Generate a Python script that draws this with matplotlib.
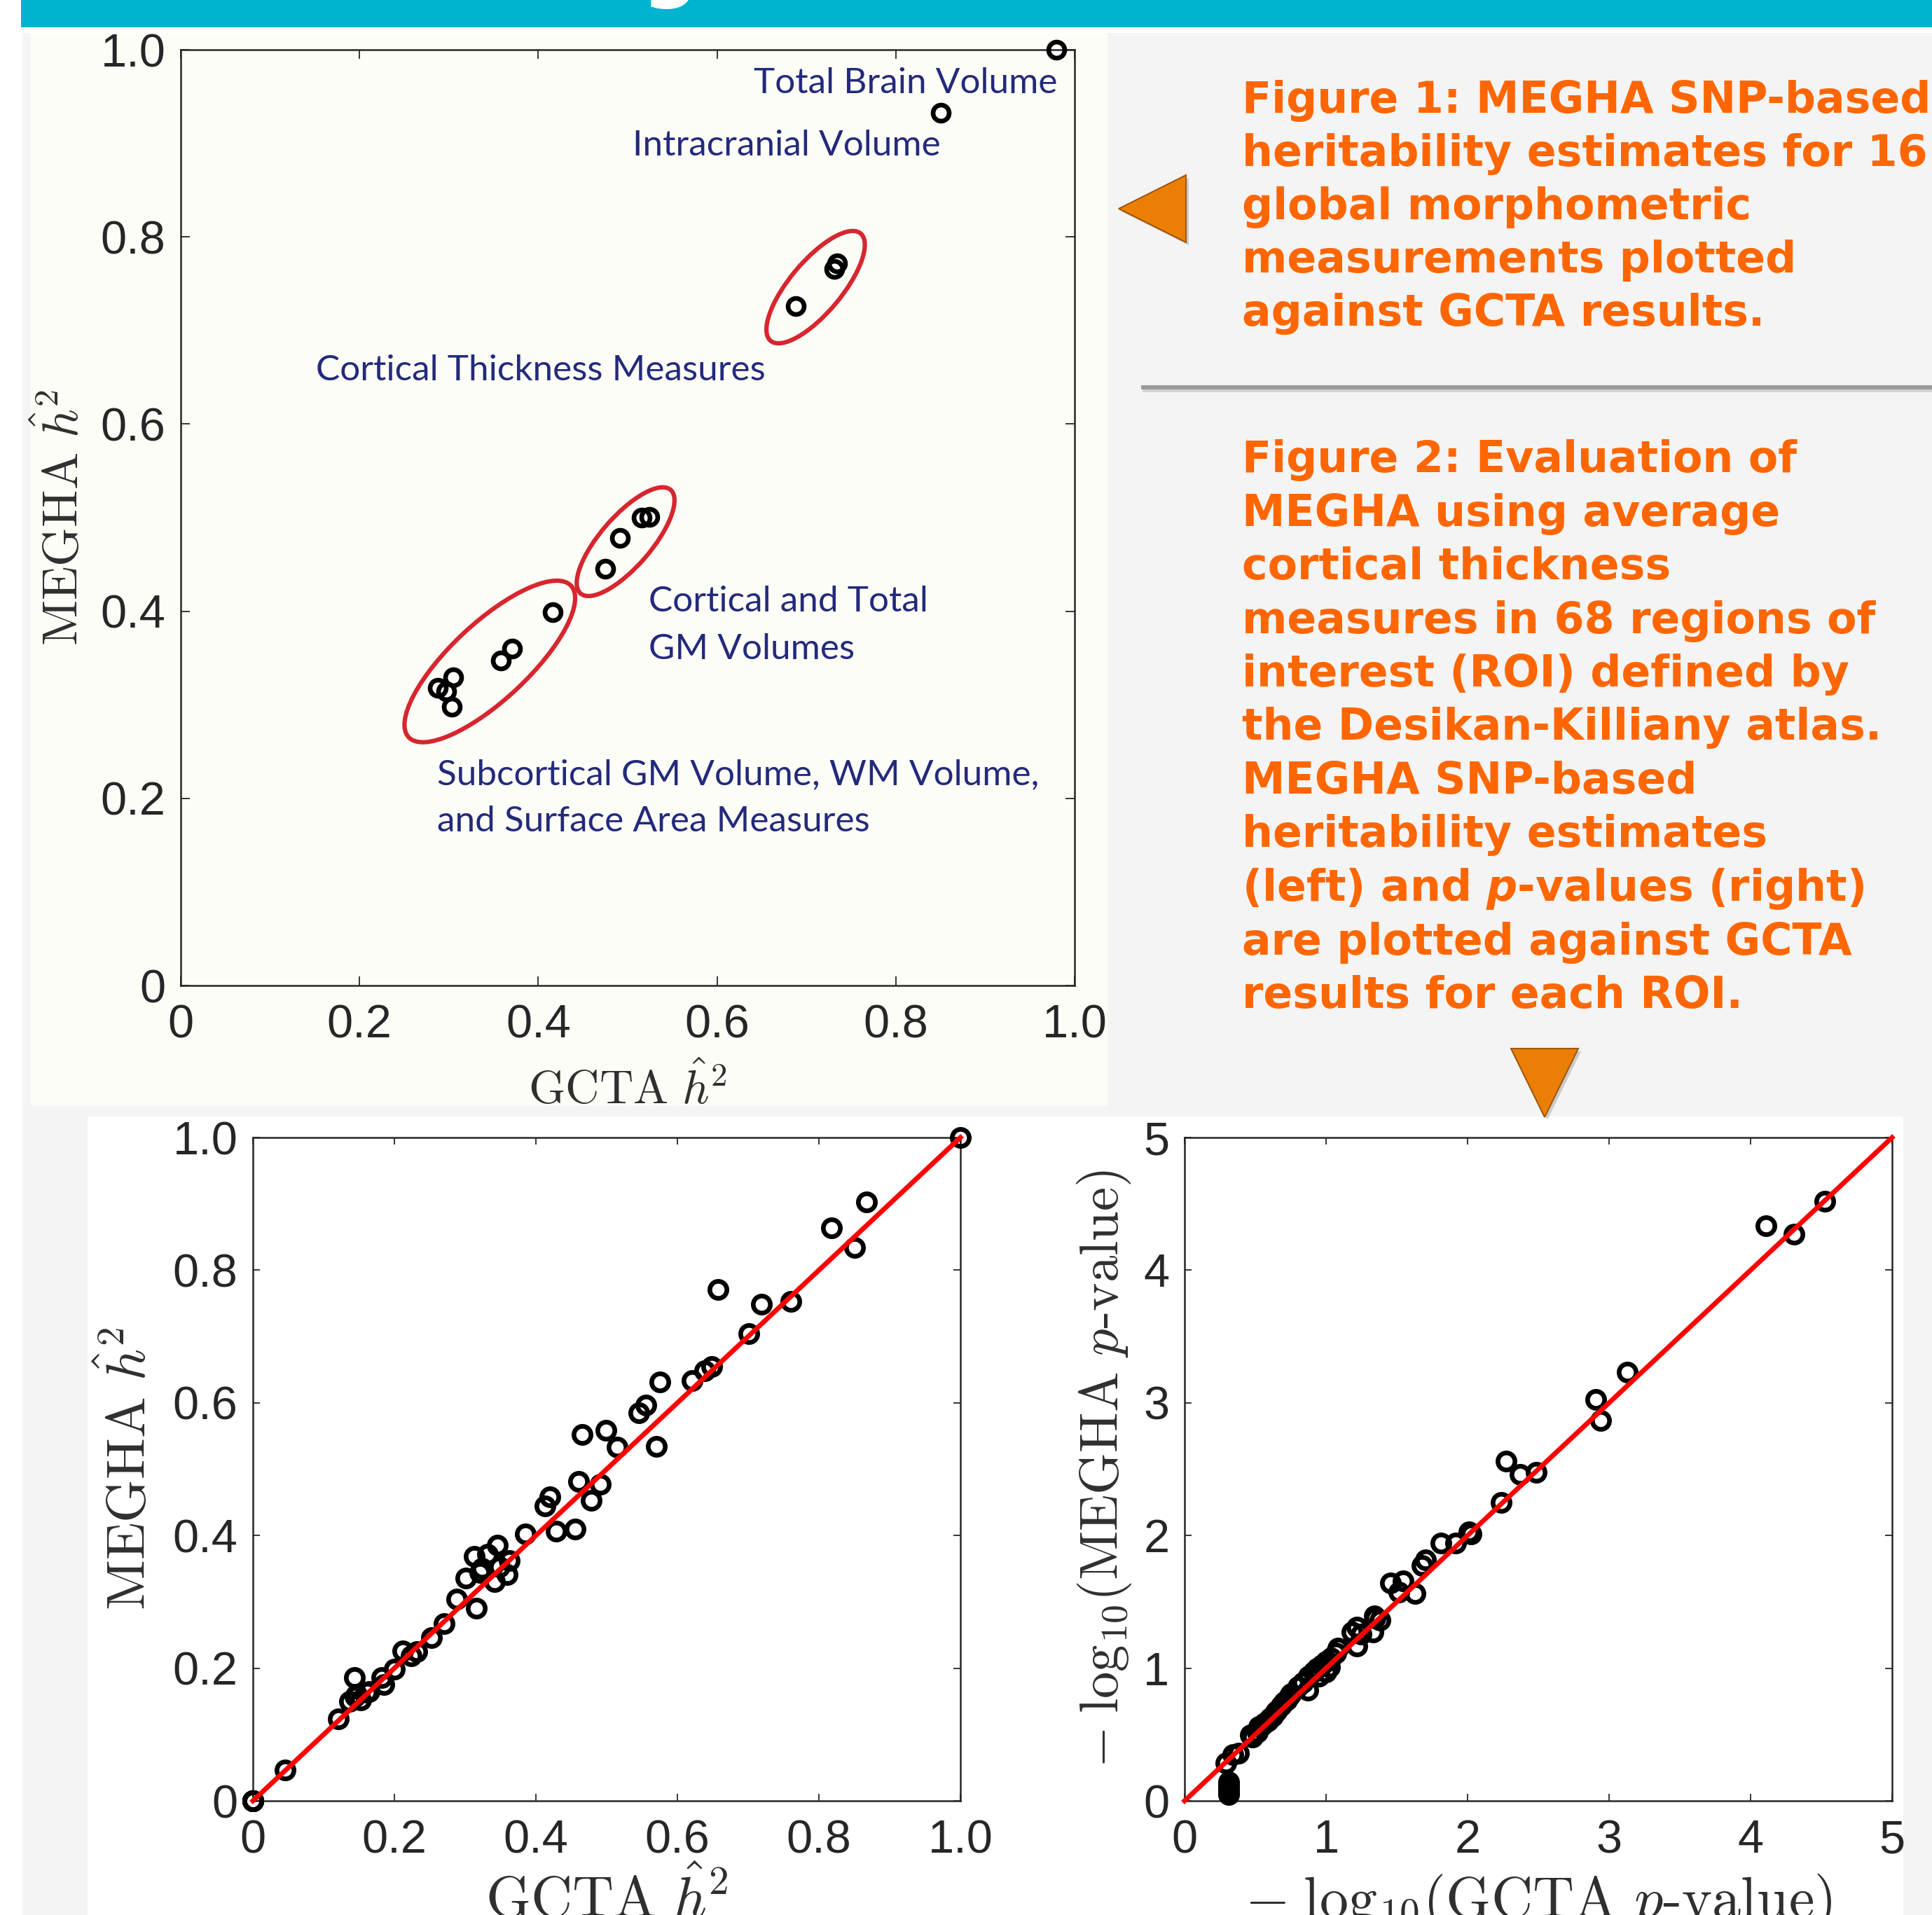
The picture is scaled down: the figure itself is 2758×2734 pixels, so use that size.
import matplotlib
matplotlib.use("Agg")
import matplotlib.pyplot as plt
from matplotlib.patches import Rectangle, Polygon, Ellipse
from matplotlib.transforms import ScaledTranslation

# ---------------- data ----------------
# Figure 1: 16 global morphometric measures (GCTA vs MEGHA h^2)
global_gcta_h2 = [0.980, 0.850, 0.734, 0.731, 0.688, 0.475, 0.491, 0.516, 0.524,
                  0.416, 0.371, 0.358, 0.305, 0.288, 0.297, 0.303]
global_megha_h2 = [1.000, 0.933, 0.772, 0.766, 0.726, 0.445, 0.478, 0.500, 0.501,
                   0.399, 0.360, 0.347, 0.329, 0.318, 0.314, 0.298]

# Figure 2 (left): ROI heritability estimates
roi_gcta_h2 = [0, 0, 0, 0, 0, 0, 0, 0.046, 0.121, 0.137, 0.144, 0.145, 0.147, 0.152,
               0.161, 0.164, 0.182, 0.185, 0.200, 0.212, 0.224, 0.232, 0.252, 0.270,
               0.288, 0.301, 0.313, 0.316, 0.321, 0.324, 0.332, 0.342, 0.346, 0.349,
               0.359, 0.362, 0.385, 0.413, 0.420, 0.429, 0.455, 0.460, 0.465, 0.478,
               0.491, 0.499, 0.515, 0.546, 0.555, 0.570, 0.575, 0.621, 0.639, 0.649,
               0.657, 0.701, 0.719, 0.760, 0.818, 0.850, 0.867, 1.000]
roi_megha_h2 = [0, 0, 0, 0, 0, 0, 0, 0.046, 0.124, 0.150, 0.186, 0.157, 0.161, 0.152,
                0.164, 0.165, 0.186, 0.175, 0.198, 0.226, 0.219, 0.225, 0.246, 0.267,
                0.304, 0.336, 0.369, 0.290, 0.344, 0.351, 0.372, 0.330, 0.385, 0.353,
                0.341, 0.362, 0.402, 0.445, 0.458, 0.407, 0.410, 0.481, 0.552, 0.453,
                0.477, 0.559, 0.533, 0.585, 0.597, 0.534, 0.631, 0.634, 0.648, 0.655,
                0.771, 0.704, 0.749, 0.753, 0.864, 0.834, 0.903, 1.000]

# Figure 2 (right): -log10 p-values
roi_gcta_logp = [0.31, 0.31, 0.31, 0.31, 0.31, 0.31, 0.31,
                 0.292, 0.342, 0.383,
                 0.465, 0.482, 0.515, 0.524, 0.548, 0.565, 0.589, 0.605, 0.622, 0.643,
                 0.655, 0.683, 0.705, 0.721, 0.743, 0.754,
                 0.804, 0.870, 0.837, 0.878, 0.911, 0.936, 0.969, 1.002, 1.035, 1.068,
                 0.952, 1.002, 1.026, 1.084, 1.183, 1.219, 1.216, 1.249, 1.332, 1.340,
                 1.381, 1.348, 1.455, 1.546, 1.513, 1.629, 1.678, 1.703, 1.810, 1.917,
                 2.008, 2.025, 2.239, 2.272, 2.371, 2.487, 2.907, 2.939, 3.130, 4.110,
                 4.305, 4.523]
roi_megha_logp = [0.05, 0.065, 0.08, 0.095, 0.11, 0.125, 0.14,
                  0.287, 0.348, 0.357,
                  0.494, 0.480, 0.516, 0.560, 0.569, 0.585, 0.603, 0.625, 0.639, 0.672,
                  0.683, 0.718, 0.745, 0.762, 0.791, 0.806,
                  0.859, 0.833, 0.894, 0.938, 0.973, 1.000, 1.026, 1.052, 1.079, 1.114,
                  0.938, 0.973, 1.008, 1.149, 1.272, 1.312, 1.167, 1.255, 1.272, 1.395,
                  1.360, 1.378, 1.642, 1.659, 1.572, 1.563, 1.774, 1.818, 1.941, 1.941,
                  2.029, 2.012, 2.249, 2.561, 2.460, 2.478, 3.024, 2.866, 3.233, 4.336,
                  4.269, 4.518]

h2_range = [0, 1]
logp_range = [0, 5]
h2_ticks = [0, 0.2, 0.4, 0.6, 0.8, 1.0]
h2_ticklabels = ['0', '0.2', '0.4', '0.6', '0.8', '1.0']
logp_ticks = [0, 1, 2, 3, 4, 5]
logp_ticklabels = ['0', '1', '2', '3', '4', '5']

fig1_caption = ["Figure 1: MEGHA SNP-based",
                "heritability estimates for 16",
                "global morphometric",
                "measurements plotted",
                "against GCTA results."]
fig2_caption = ["Figure 2: Evaluation of",
                "MEGHA using average",
                "cortical thickness",
                "measures in 68 regions of",
                "interest (ROI) defined by",
                "the Desikan-Killiany atlas.",
                "MEGHA SNP-based",
                "heritability estimates",
                "(left) and $p$-values (right)",
                "are plotted against GCTA",
                "results for each ROI."]
group_labels = [("Total Brain Volume", 0.9805, 0.9537, 'right'),
                ("Intracranial Volume", 0.850, 0.8868, 'right'),
                ("Cortical Thickness Measures", 0.1511, 0.647, 'left'),
                ("Cortical and Total", 0.5234, 0.400, 'left'),
                ("GM Volumes", 0.5234, 0.3485, 'left'),
                ("Subcortical GM Volume, WM Volume,", 0.2866, 0.2147, 'left'),
                ("and Surface Area Measures", 0.2866, 0.1647, 'left')]

# ---------------- figure ----------------
W, H, DPI = 2758, 2734, 100
plt.rcParams['font.family'] = ['Liberation Sans', 'DejaVu Sans']
plt.rcParams['mathtext.fontset'] = 'cm'
plt.rcParams['mathtext.it'] = 'DejaVu Sans:italic:bold'
plt.rcParams['axes.unicode_minus'] = False

fig = plt.figure(figsize=(W / DPI, H / DPI), dpi=DPI, facecolor='white')
renderer = fig.canvas.get_renderer()


def fx(x):
    return x / W


def fy(y):
    return 1 - y / H


def add_rect(x0, y0, x1, y1, color, z=-10):
    fig.add_artist(Rectangle((fx(x0), fy(y1)), (x1 - x0) / W, (y1 - y0) / H,
                             transform=fig.transFigure, facecolor=color,
                             edgecolor='none', zorder=z))


def add_poly(pts, fc, ec, z=5, lw=1.5, alpha=1.0):
    fig.add_artist(Polygon([(fx(x), fy(y)) for x, y in pts], closed=True,
                           transform=fig.transFigure, facecolor=fc, edgecolor=ec,
                           lw=lw, zorder=z, alpha=alpha))


def fit_text(t, target, use_height=False):
    bb = t.get_window_extent(renderer)
    cur = bb.height if use_height else bb.width
    t.set_fontsize(t.get_fontsize() * target / cur)
    return t.get_fontsize()


# backgrounds
add_rect(32, 47, W, H, '#F4F4F4')
add_rect(44, 47, 1581, 1578, '#FDFDF8')
add_rect(125, 1594, 2717, H, '#FFFFFF')
add_rect(30, 0, W, 39, '#00B4D0')
fig.text(fx(957), fy(-11), 'g', color='white', fontsize=80, fontweight='bold',
         family='DejaVu Sans', ha='center', va='baseline')

# separator line
add_rect(1631, 556, W, 560, '#D2D2D2', z=-5)
add_rect(1629, 550, W, 556, '#9A9A9A', z=-4)

# arrows
add_poly([(1601, 302), (1697, 254), (1697, 350)], '#808080', 'none', z=4, alpha=0.35)
add_poly([(1597, 298), (1693, 250), (1693, 346)], '#EB7F05', '#A0580F', z=5)
add_poly([(2161, 1501), (2257, 1501), (2209, 1599)], '#808080', 'none', z=4, alpha=0.35)
add_poly([(2157, 1497), (2253, 1497), (2205, 1595)], '#EB7F05', '#A0580F', z=5)

# captions
orange = '#FF6600'
cap_texts = []
for i, line in enumerate(fig1_caption):
    cap_texts.append(fig.text(fx(1773), fy(160.5 + i * 76.2), line, color=orange,
                              fontsize=44, fontweight='bold', family='DejaVu Sans',
                              ha='left', va='baseline', math_fontfamily='custom'))
for i, line in enumerate(fig2_caption):
    cap_texts.append(fig.text(fx(1773), fy(674 + i * 76.5), line, color=orange,
                              fontsize=44, fontweight='bold', family='DejaVu Sans',
                              ha='left', va='baseline', math_fontfamily='custom'))
ref_t = [t for t in cap_texts if t.get_text().startswith('the Desikan')][0]
cap_size = fit_text(ref_t, 913)
for t in cap_texts:
    t.set_fontsize(cap_size)

# axes
ax1 = fig.add_axes([fx(258), fy(1407), (1534 - 258) / W, (1407 - 71) / H])
ax2 = fig.add_axes([fx(361), fy(2571), 1010 / W, 947 / H])
ax3 = fig.add_axes([fx(1691), fy(2571), 1010 / W, 947 / H])


def style_axes(ax, lim, ticks, ticklabels, ticklen, face):
    ax.set_xlim(lim)
    ax.set_ylim(lim)
    ax.set_xticks(ticks)
    ax.set_yticks(ticks)
    ax.set_xticklabels(ticklabels)
    ax.set_yticklabels(ticklabels)
    ax.set_facecolor(face)
    ax.tick_params(direction='in', top=True, right=True, length=ticklen,
                   width=1.3, colors='#262626', labelsize=48)
    ax.tick_params(axis='x', pad=19)
    ax.tick_params(axis='y', pad=15.5)
    for sp in ax.spines.values():
        sp.set_linewidth(1.8)
        sp.set_color('#262626')


style_axes(ax1, h2_range, h2_ticks, h2_ticklabels, 9.5, 'none')
style_axes(ax2, h2_range, h2_ticks, h2_ticklabels, 7.5, 'white')
style_axes(ax3, logp_range, logp_ticks, logp_ticklabels, 7.5, 'white')

lab_color = '#2f2f2f'


def set_labels(ax, xl, yl, xw, yh, xbase, ybase, family=None):
    kw = dict(fontsize=50, color=lab_color, math_fontfamily='cm')
    if family:
        kw['family'] = family
    lx = ax.set_xlabel(xl, **kw)
    ly = ax.set_ylabel(yl, **kw)
    fit_text(lx, xw)
    fit_text(ly, yh, use_height=True)
    ax.xaxis.set_label_coords(0.5, xbase)
    ax.yaxis.set_label_coords(ybase, 0.5)
    lx.set_va('baseline')
    ly.set_va('baseline')


set_labels(ax1, r'$\mathrm{GCTA}\ \hat{h}^2$', r'$\mathrm{MEGHA}\ \hat{h}^2$',
           284, 366, (1407 - 1576) / 1336, (112 - 258) / 1276)
set_labels(ax2, r'$\mathrm{GCTA}\ \hat{h}^2$', r'$\mathrm{MEGHA}\ \hat{h}^2$',
           347, 404, (2571 - 2737) / 947, (208 - 361) / 1010)
set_labels(ax3, r'$-\;\mathrm{log}_{10}(\mathrm{GCTA}\ p$-value)',
           r'$-\;\mathrm{log}_{10}(\mathrm{MEGHA}\ p$-value)',
           839, 854, (2571 - 2737) / 947, (1596 - 1691) / 1010, family='cmr10')

# scatter points
ax1.plot(global_gcta_h2, global_megha_h2, linestyle='none', marker='o', ms=16.5,
         mfc='none', mec='black', mew=4.8, clip_on=False, zorder=3)
ax2.plot(roi_gcta_h2, roi_megha_h2, linestyle='none', marker='o', ms=17.5,
         mfc='none', mec='black', mew=4.8, clip_on=False, zorder=3)
ax3.plot(roi_gcta_logp, roi_megha_logp, linestyle='none', marker='o', ms=17.5,
         mfc='none', mec='black', mew=4.8, clip_on=False, zorder=3)

# identity lines
ax2.plot(h2_range, h2_range, color='#FF0000', lw=5, zorder=4, clip_on=False)
ax3.plot(logp_range, logp_range, color='#FF0000', lw=5, zorder=4, clip_on=False)


# group ellipses (pixel sizes, centred in data coords)
def add_ellipse(ax, cx, cy, w_px, h_px, angle):
    tr = fig.dpi_scale_trans + ScaledTranslation(cx, cy, ax.transData)
    e = Ellipse((0, 0), w_px / DPI, h_px / DPI, angle=angle, transform=tr,
                fill=False, edgecolor='#D7262E', lw=4.5, clip_on=False, zorder=2)
    ax.add_artist(e)


add_ellipse(ax1, 0.7103, 0.7463, 200, 74, 50)
add_ellipse(ax1, 0.4977, 0.4743, 196, 72, 49)
add_ellipse(ax1, 0.3458, 0.3463, 317, 110, 43)

# group labels
navy = '#232A7B'
ann = []
for s, x, y, ha in group_labels:
    ann.append(ax1.text(x, y, s, family='Lato', fontsize=36, color=navy,
                        ha=ha, va='baseline'))
ann_size = fit_text(ann[2], 642)
for t in ann:
    t.set_fontsize(ann_size)

fig.savefig('out.png', dpi=DPI, facecolor='white')
